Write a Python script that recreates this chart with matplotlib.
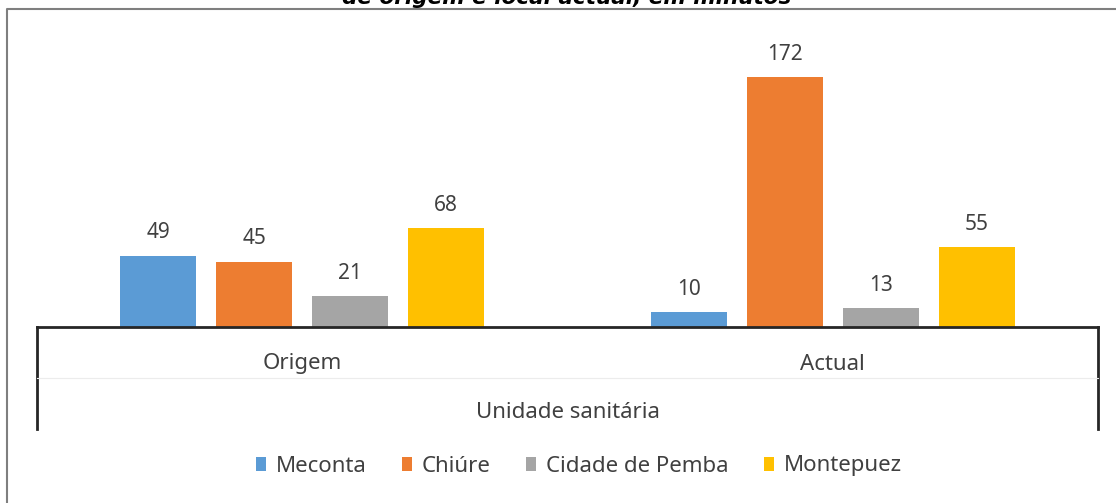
import matplotlib.pyplot as plt
from matplotlib.lines import Line2D
from matplotlib.patches import Patch

plt.rcParams['font.family'] = ['Noto Sans', 'DejaVu Sans']

# data
categories = ['Origem', 'Actual']
series = ['Meconta', 'Chiúre', 'Cidade de Pemba', 'Montepuez']
values = {
    'Meconta': [49, 10],
    'Chiúre': [45, 172],
    'Cidade de Pemba': [21, 13],
    'Montepuez': [68, 55],
}
colors = ['#5B9BD5', '#ED7D31', '#A5A5A5', '#FFC000']
title = 'de origem e local actual, em minutos'
xlabel = 'Unidade sanitária'

W, H = 1116, 503
fig = plt.figure(figsize=(W / 100, H / 100), dpi=100)

def fx(px):
    return px / W

def fy(py):
    return 1 - py / H

# plot area: x 37..1098, baseline at 327, top at 9
ax = fig.add_axes([fx(37), fy(327), fx(1098 - 37), (327 - 9) / H])
ax.set_xlim(-0.5, 1.5)
ax.set_ylim(0, 218.8)
ax.axis('off')

step = 0.181
width = 0.143
txt = '#404040'
fs = 16
for i, (name, c) in enumerate(zip(series, colors)):
    xs = [k + (i - 1.5) * step for k in range(len(categories))]
    bars = ax.bar(xs, values[name], width=width, color=c)
    for b, v in zip(bars, values[name]):
        ax.annotate(str(v), (b.get_x() + b.get_width() / 2, v),
                    xytext=(0, 9), textcoords='offset points',
                    ha='center', va='bottom', fontsize=15, color=txt)

# category axis box
line_col = '#262626'
fig.add_artist(Line2D([fx(37), fx(1098)], [fy(327), fy(327)], color=line_col, lw=2))
fig.add_artist(Line2D([fx(37), fx(37)], [fy(327), fy(429)], color=line_col, lw=2))
fig.add_artist(Line2D([fx(1098), fx(1098)], [fy(327), fy(429)], color=line_col, lw=2))
fig.add_artist(Line2D([fx(37), fx(1098)], [fy(378), fy(378)], color='#ececec', lw=0.8))

for k, cat in enumerate(categories):
    xpix = 37 + (k + 0.5) * (1098 - 37) / len(categories)
    fig.text(fx(xpix), fy(364), cat, ha='center', va='center', fontsize=fs, color=txt)
fig.text(fx(567.5), fy(412), xlabel, ha='center', va='center', fontsize=fs, color=txt)

# outer chart border (runs off right and bottom)
fig.add_artist(Line2D([fx(7), fx(7), fx(W + 5)], [fy(H + 5), fy(9), fy(9)],
                      color='#7f7f7f', lw=1.5))

# title, mostly cut off at the top as in the source
fig.text(fx(567), fy(4.5), title, ha='center', va='baseline', fontsize=15.5,
         family='DejaVu Sans', fontweight='bold', fontstyle='oblique', color='black')

handles = [Patch(facecolor=c, edgecolor='none') for c in colors]
fig.legend(handles, series, loc='center', bbox_to_anchor=(fx(579), fy(466)),
           ncol=4, frameon=False, fontsize=fs, labelcolor=txt,
           handlelength=0.45, handleheight=0.6, handletextpad=0.45, columnspacing=1.6)

fig.savefig('out.png', dpi=100)
